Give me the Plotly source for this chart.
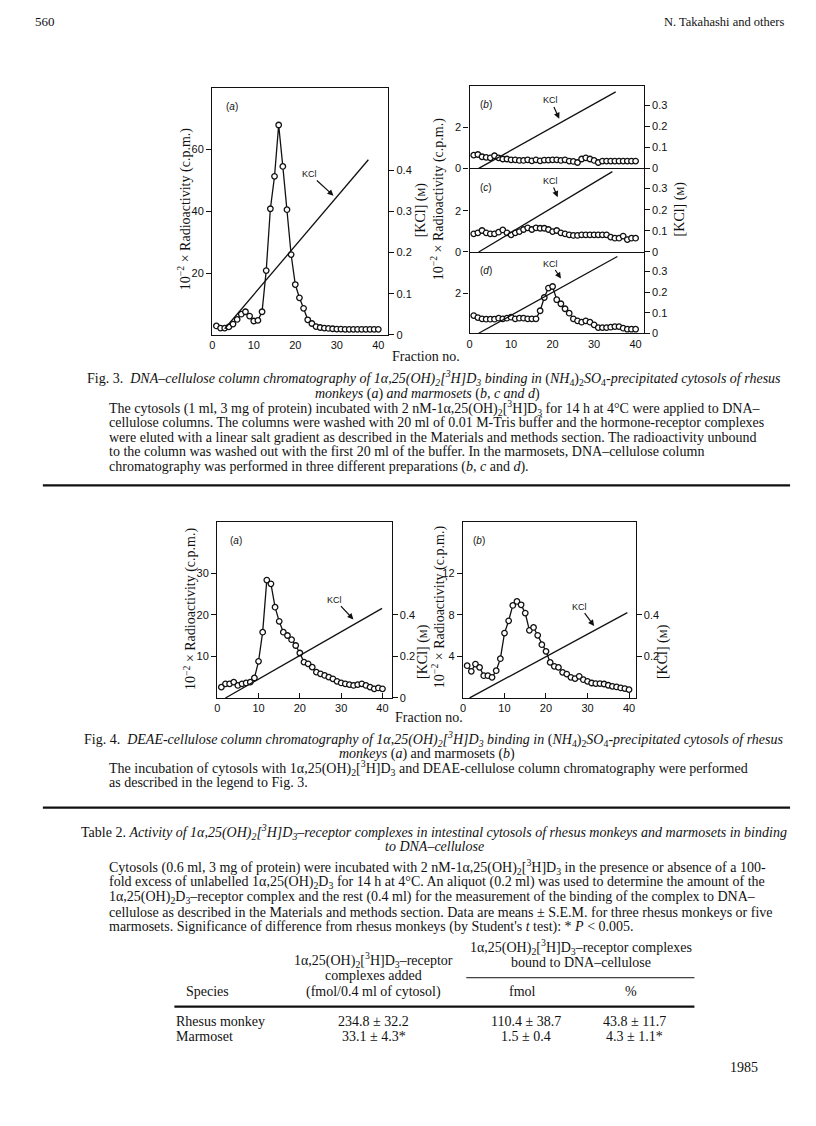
import plotly.graph_objects as go

# The browser page adds an 8px body margin, so the figure is drawn 800x1110
# and every reference pixel position is shifted by that margin.
FW, FH = 800, 1110
OFF = 8


def px(x):
    return (x - OFF) / FW


def py(y):
    return 1 - (y - OFF) / FH


# ---------------- data ----------------
fractions = list(range(1, 41))

fig3a_cpm = [2.9, 2.2, 2.2, 2.6, 3.5, 5.0, 6.7, 7.5, 6.1, 4.5, 4.7, 7.5, 20.8, 40.8, 51.3,
             67.9, 54.5, 40.5, 26.0, 16.3, 12.0, 8.6, 4.9, 3.7, 2.7, 2.4, 2.2, 2.1, 2.0, 1.9,
             1.9, 1.8, 1.8, 1.8, 1.8, 1.8, 1.8, 1.8, 1.8, 1.8]
fig3b_cpm = [0.65, 0.68, 0.57, 0.54, 0.52, 0.62, 0.52, 0.46, 0.46, 0.42,
             0.42, 0.39, 0.39, 0.42, 0.37, 0.42, 0.37, 0.41, 0.41, 0.42,
             0.42, 0.39, 0.42, 0.36, 0.34, 0.29, 0.46, 0.52, 0.46, 0.39,
             0.29, 0.36, 0.36, 0.36, 0.36, 0.36, 0.36, 0.36, 0.36, 0.36]
fig3c_cpm = [0.88, 0.93, 1.04, 0.93, 0.88, 0.88, 0.96, 1.07, 0.93, 0.83,
             0.93, 0.99, 1.09, 1.17, 1.09, 1.17, 1.15, 1.15, 1.09, 0.99,
             1.04, 0.93, 0.88, 0.83, 0.80, 0.80, 0.83, 0.83, 0.83, 0.83,
             0.83, 0.83, 0.83, 0.72, 0.67, 0.67, 0.77, 0.60, 0.67, 0.67]
fig3d_cpm = [0.88, 0.78, 0.72, 0.70, 0.70, 0.70, 0.75, 0.72, 0.75, 0.80,
             0.72, 0.75, 0.75, 0.72, 0.72, 0.72, 1.12, 1.78, 2.25, 2.33,
             1.67, 1.47, 1.22, 1.00, 0.72, 0.62, 0.55, 0.62, 0.55, 0.42,
             0.28, 0.28, 0.28, 0.30, 0.33, 0.33, 0.25, 0.20, 0.20, 0.20]
fig4a_cpm = [2.6, 3.4, 3.4, 3.8, 3.0, 3.4, 3.6, 3.8, 4.8, 8.8,
             15.8, 28.3, 27.4, 21.8, 18.4, 15.8, 15.0, 14.0, 12.6, 10.8,
             8.6, 8.2, 7.4, 6.2, 5.8, 5.4, 5.0, 4.6, 4.0, 3.6,
             3.4, 3.2, 3.0, 3.2, 3.4, 3.0, 2.6, 2.2, 2.4, 2.2]
fig4b_cpm = [3.10, 2.56, 3.26, 2.94, 2.14, 2.14, 1.98, 2.62, 3.78, 6.24,
             7.42, 8.90, 9.28, 8.96, 8.16, 6.50, 6.78, 6.02, 5.12, 4.48,
             3.42, 3.04, 2.94, 2.46, 2.30, 1.98, 1.86, 2.08, 1.76, 1.60,
             1.44, 1.38, 1.38, 1.34, 1.22, 1.12, 1.06, 0.96, 0.90, 0.80]

# KCl linear gradients (start / end of each line)
kcl3a_frac = [3.0, 37.6]
kcl3a_conc = [0.015, 0.425]
kcl3b_frac = [2.2, 35.2]
kcl3b_conc = [0.0, 0.365]
kcl3c_frac = [2.2, 34.4]
kcl3c_conc = [0.0, 0.38]
kcl3d_frac = [2.2, 35.6]
kcl3d_conc = [0.0, 0.373]
kcl4a_frac = [2.0, 39.9]
kcl4a_conc = [0.0, 0.43]
kcl4b_frac = [1.6, 39.6]
kcl4b_conc = [0.0, 0.41]

x_ticks = [0, 10, 20, 30, 40]
x_ticktext = ["0", "10", "20", "30", "40"]

# Table 2
species = ["Rhesus monkey", "Marmoset"]
added = ["234.8 ± 32.2", "33.1 ± 4.3*"]
bound_fmol = ["110.4 ± 38.7", "1.5 ± 0.4"]
bound_pct = ["43.8 ± 11.7", "4.3 ± 1.1*"]

SERIF = "Liberation Serif"
SANS = "Liberation Sans"
BLACK = "#111111"
LW = 1.4

fig = go.Figure()

panels = [
    dict(key=1, xd=(210, 386.7), yd=(88, 336.7), cpm=fig3a_cpm, kf=kcl3a_frac, kc=kcl3a_conc,
         lt=[20, 40, 60], rt=[0, 0.1, 0.2, 0.3, 0.4], yr=[0, 80], y2r=[0, 0.6], xr=[0, 42.4],
         showx=True, xtick="", mirror=True),
    dict(key=2, xd=(468.3, 643.3), yd=(86, 169.3), cpm=fig3b_cpm, kf=kcl3b_frac, kc=kcl3b_conc,
         lt=[0, 2], rt=[0, 0.1, 0.2, 0.3], yr=[0, 4.05], y2r=[0, 0.395], xr=[0, 42.0],
         showx=False, xtick="", mirror=True),
    dict(key=3, xd=(468.3, 643.3), yd=(169.3, 253.3), cpm=fig3c_cpm, kf=kcl3c_frac, kc=kcl3c_conc,
         lt=[0, 2], rt=[0, 0.1, 0.2, 0.3], yr=[0, 4.05], y2r=[0, 0.395], xr=[0, 42.0],
         showx=False, xtick="", mirror=False),
    dict(key=4, xd=(468.3, 643.3), yd=(253.3, 335), cpm=fig3d_cpm, kf=kcl3d_frac, kc=kcl3d_conc,
         lt=[2], rt=[0, 0.1, 0.2, 0.3], yr=[0, 4.05], y2r=[0, 0.395], xr=[0, 42.0],
         showx=True, xtick="", mirror=False),
    dict(key=5, xd=(215, 390), yd=(525, 701.7), cpm=fig4a_cpm, kf=kcl4a_frac, kc=kcl4a_conc,
         lt=[10, 20, 30], rt=[0, 0.2, 0.4], yr=[0, 42.2], y2r=[0, 0.844], xr=[0, 42.2],
         showx=True, xtick="inside", mirror=True),
    dict(key=6, xd=(461.7, 635), yd=(525, 701.7), cpm=fig4b_cpm, kf=kcl4b_frac, kc=kcl4b_conc,
         lt=[4, 8, 12], rt=[0.2, 0.4], yr=[0, 16.9], y2r=[0, 0.844], xr=[0, 41.6],
         showx=True, xtick="inside", mirror=True),
]

layout = dict(
    width=FW, height=FH, margin=dict(l=0, r=0, t=0, b=0),
    paper_bgcolor="white", plot_bgcolor="rgba(0,0,0,0)", showlegend=False,
)

for p in panels:
    k = p["key"]
    xname = "x" if k == 1 else f"x{k}"
    yl_idx = 2 * k - 1
    yr_idx = 2 * k
    ylname = "y" if yl_idx == 1 else f"y{yl_idx}"
    yrname = f"y{yr_idx}"
    xaxis_key = "xaxis" if k == 1 else f"xaxis{k}"
    yl_key = "yaxis" if yl_idx == 1 else f"yaxis{yl_idx}"
    yr_key = f"yaxis{yr_idx}"

    fig.add_trace(go.Scatter(
        x=fractions, y=p["cpm"], xaxis=xname, yaxis=ylname, mode="lines+markers",
        line=dict(color=BLACK, width=1.3),
        marker=dict(symbol="circle", size=5.5, color="white", line=dict(color=BLACK, width=1.3)),
        cliponaxis=False, hoverinfo="skip"))
    fig.add_trace(go.Scatter(
        x=p["kf"], y=p["kc"], xaxis=xname, yaxis=yrname, mode="lines",
        line=dict(color=BLACK, width=1.3), hoverinfo="skip"))

    layout[xaxis_key] = dict(
        domain=[px(p["xd"][0]), px(p["xd"][1])], range=p["xr"], anchor=ylname,
        showline=True, mirror=p["mirror"], linecolor=BLACK, linewidth=LW, showgrid=False,
        zeroline=False,
        tickvals=x_ticks if (p["showx"] or p["xtick"]) else [],
        ticktext=x_ticktext, showticklabels=p["showx"],
        ticks=p["xtick"], ticklen=5, tickcolor=BLACK,
        tickfont=dict(family=SANS, size=11, color=BLACK),
    )
    layout[yl_key] = dict(
        domain=[py(p["yd"][1]), py(p["yd"][0])], range=p["yr"], anchor=xname,
        showline=True, mirror=True, linecolor=BLACK, linewidth=LW, showgrid=False,
        zeroline=False,
        tickvals=p["lt"], ticks="outside", ticklen=5, tickcolor=BLACK,
        tickfont=dict(family=SANS, size=11, color=BLACK),
    )
    layout[yr_key] = dict(
        overlaying=ylname, side="right", anchor=xname, range=p["y2r"],
        showline=False, showgrid=False, zeroline=False,
        tickvals=p["rt"], ticktext=[("0" if v == 0 else f"{v:.1f}") for v in p["rt"]],
        ticks="outside", ticklen=5, tickcolor=BLACK,
        tickfont=dict(family=SANS, size=11, color=BLACK),
    )

fig.update_layout(**layout)

ann = []
shapes = []


def text(x, y, s, size=14, xanchor="center", family=SERIF, angle=0):
    ann.append(dict(x=px(x), y=py(y), xref="paper", yref="paper", text=s, showarrow=False,
                    xanchor=xanchor, yanchor="middle", textangle=angle,
                    font=dict(family=family, size=size, color=BLACK)))


def arrow(tx, ty, hx, hy, s="KCl"):
    ann.append(dict(x=px(hx), y=py(hy), xref="paper", yref="paper", ax=tx - hx, ay=ty - hy,
                    axref="pixel", ayref="pixel", text=s, showarrow=True, arrowhead=2,
                    arrowsize=1, arrowwidth=1.2, arrowcolor=BLACK, standoff=0,
                    font=dict(family=SANS, size=9, color=BLACK)))


def hline(x0, x1, y, w=1.0):
    shapes.append(dict(type="line", xref="paper", yref="paper", x0=px(x0), x1=px(x1),
                       y0=py(y), y1=py(y), line=dict(color=BLACK, width=w)))


RAD = "10<sup>−2</sup> × Radioactivity (c.p.m.)"
KCL = "[KCl] (<span style='font-size:10px'>M</span>)"

# page header
text(30, 22, "560", 13, xanchor="left")
text(787, 22, "N. Takahashi and others", 12.5, xanchor="right")

# Fig. 3 labels
text(230, 107, "(<i>a</i>)", 10, family=SANS)
text(485, 105, "(<i>b</i>)", 10, family=SANS)
text(485, 188, "(<i>c</i>)", 10, family=SANS)
text(485, 272, "(<i>d</i>)", 10, family=SANS)
arrow(308, 175, 331.7, 196.7)
arrow(550, 101, 558.3, 119.3)
arrow(550, 182, 556.7, 198.3)
arrow(550, 265, 560, 280)
text(183, 210, RAD, 14, angle=-90)
text(419, 211, KCL, 14, angle=-90)
text(437, 200, RAD, 14, angle=-90)
text(679, 210, KCL, 14, angle=-90)
text(425, 358, "Fraction no.", 14)

# Fig. 4 labels
text(234, 543, "(<i>a</i>)", 10, family=SANS)
text(478, 543, "(<i>b</i>)", 10, family=SANS)
arrow(333, 603, 351.7, 622.7)
arrow(579, 610, 593.3, 629.3)
text(188, 612, RAD, 14, angle=-90)
text(421, 655, KCL, 14, angle=-90)
text(437, 610, RAD, 14, angle=-90)
text(662, 655, KCL, 14, angle=-90)
text(428, 721, "Fraction no.", 14)

OH = "1α,25(OH)<sub>2</sub>[<sup>3</sup>H]D<sub>3</sub>"
OHi = "1α,25(<i>OH</i>)<sub>2</sub>[<sup>3</sup><i>H</i>]<i>D</i><sub>3</sub>"
NH4 = "(<i>NH</i><sub>4</sub>)<sub>2</sub><i>SO</i><sub>4</sub>"

# Fig. 3 caption
text(433, 380, "Fig. 3.  <i>DNA–cellulose column chromatography of " + OHi +
     " binding in</i> " + NH4 + "<i>-precipitated cytosols of rhesus</i>", 14)
text(426, 396, "<i>monkeys</i> (<i>a</i>) <i>and marmosets</i> (<i>b, c and d</i>)", 14)
body3 = [
    "The cytosols (1 ml, 3 mg of protein) incubated with 2 nM-" + OH + " for 14 h at 4°C were applied to DNA–",
    "cellulose columns. The columns were washed with 20 ml of 0.01 M-Tris buffer and the hormone-receptor complexes",
    "were eluted with a linear salt gradient as described in the Materials and methods section. The radioactivity unbound",
    "to the column was washed out with the first 20 ml of the buffer. In the marmosets, DNA–cellulose column",
    "chromatography was performed in three different preparations (<i>b, c</i> and <i>d</i>).",
]
for i, s in enumerate(body3):
    text(104, 410 + 14.75 * i, s, 14, xanchor="left")
hline(40, 790, 488, 2.2)

# Fig. 4 caption
text(433, 743, "Fig. 4.  <i>DEAE-cellulose column chromatography of " + OHi +
     " binding in</i> " + NH4 + "<i>-precipitated cytosols of rhesus</i>", 14)
text(426, 758, "<i>monkeys</i> (<i>a</i>) and marmosets (<i>b</i>)", 14)
text(104, 772, "The incubation of cytosols with " + OH +
     " and DEAE-cellulose column chromatography were performed", 14, xanchor="left")
text(104, 787, "as described in the legend to Fig. 3.", 14, xanchor="left")
hline(40, 790, 812, 2.2)

# Table 2 caption
text(433, 836, "Table 2. <i>Activity of " + OHi +
     "–receptor complexes in intestinal cytosols of rhesus monkeys and marmosets in binding</i>", 14)
text(433, 851, "<i>to DNA–cellulose</i>", 14)
body_t = [
    "Cytosols (0.6 ml, 3 mg of protein) were incubated with 2 nM-" + OH + " in the presence or absence of a 100-",
    "fold excess of unlabelled 1α,25(OH)<sub>2</sub>D<sub>3</sub> for 14 h at 4°C. An aliquot (0.2 ml) was used to determine the amount of the",
    "1α,25(OH)<sub>2</sub>D<sub>3</sub>–receptor complex and the rest (0.4 ml) for the measurement of the binding of the complex to DNA–",
    "cellulose as described in the Materials and methods section. Data are means ± S.E.M. for three rhesus monkeys or five",
    "marmosets. Significance of difference from rhesus monkeys (by Student's <i>t</i> test): * <i>P</i> < 0.005.",
]
for i, s in enumerate(body_t):
    text(104, 872 + 15 * i, s, 14, xanchor="left")

# table body
text(580, 952, OH + "–receptor complexes", 14)
text(580, 968, "bound to DNA–cellulose", 14)
text(372, 965, OH + "–receptor", 14)
text(372, 981, "complexes added", 14)
hline(465, 694, 983, 1.0)
text(205, 997, "Species", 14)
text(372, 997, "(fmol/0.4 ml of cytosol)", 14)
text(521, 997, "fmol", 14)
text(630, 997, "%", 14)
hline(172, 694, 1012, 2.2)
for i in range(2):
    yy = 1027 + 15 * i
    text(172, yy, species[i], 14, xanchor="left")
    text(372, yy, added[i], 14)
    text(525, yy, bound_fmol[i], 14)
    text(634, yy, bound_pct[i], 14)
text(760, 1073, "1985", 14, xanchor="right")

fig.update_layout(annotations=ann, shapes=shapes)
fig.write_html("out.html")
